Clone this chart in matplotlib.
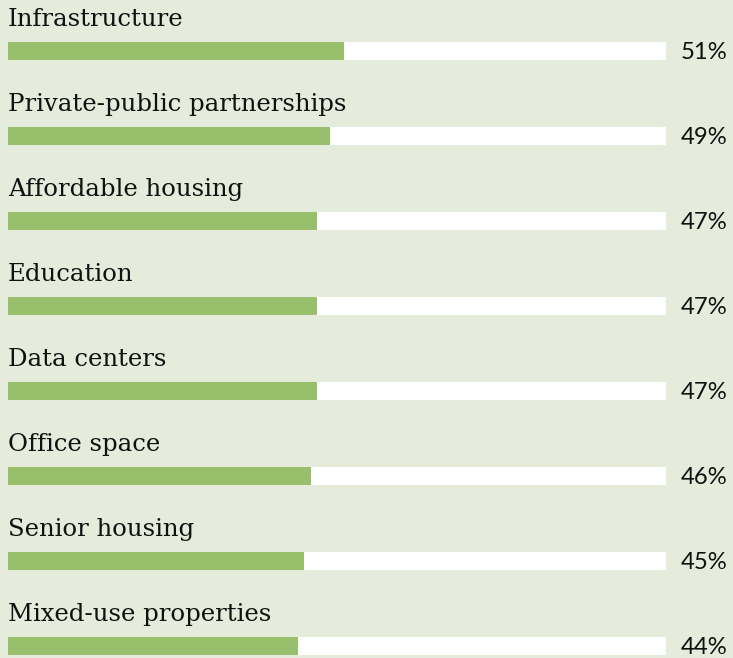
import matplotlib
matplotlib.use("Agg")
import matplotlib.pyplot as plt

categories = ["Infrastructure", "Private-public partnerships", "Affordable housing",
              "Education", "Data centers", "Office space", "Senior housing",
              "Mixed-use properties"]
values = [51, 49, 47, 47, 47, 46, 45, 44]
value_labels = ["51%", "49%", "47%", "47%", "47%", "46%", "45%", "44%"]

BG = "#e6ecdb"
GREEN = "#98c06c"

W, H = 733, 658
fig = plt.figure(figsize=(W / 100, H / 100), dpi=100, facecolor=BG)
ax = fig.add_axes([8 / W, 0, 658 / W, 1])
ax.set_facecolor(BG)
ax.set_xlim(0, 100)
ax.set_ylim(7.14, -0.6)
ax.axis("off")

ys = list(range(len(categories)))
ax.barh(ys, [100] * len(ys), height=0.22, color="white", zorder=1)
ax.barh(ys, values, height=0.22, color=GREEN, zorder=2)

for y, cat, lab in zip(ys, categories, value_labels):
    ax.text(0, y - 0.29, cat, ha="left", va="baseline", fontsize=17.6,
            family="DejaVu Serif", color="#111111", clip_on=False)
    ax.text(102.3, y + 0.09, lab, ha="left", va="baseline", fontsize=17.2,
            family="Lato", color="#111111", clip_on=False)

fig.savefig("out.png", dpi=100, facecolor=BG)
